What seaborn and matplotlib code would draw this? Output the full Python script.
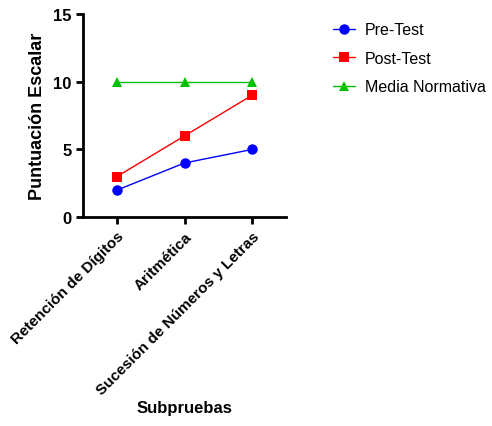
import pandas as pd
import seaborn as sns
import matplotlib.pyplot as plt

subpruebas = ['Retención de Dígitos', 'Aritmética', 'Sucesión de Números y Letras']
pre_test = [2, 4, 5]
post_test = [3, 6, 9]
media_normativa = [10, 10, 10]
series_names = ['Pre-Test', 'Post-Test', 'Media Normativa']

df = pd.DataFrame({
    'Subprueba': subpruebas * 3,
    'Puntuacion': pre_test + post_test + media_normativa,
    'Serie': [s for s in series_names for _ in subpruebas],
})

sns.set_style('ticks')
plt.rcParams['font.family'] = ['Liberation Sans', 'DejaVu Sans']
plt.rcParams['text.color'] = 'black'
plt.rcParams['axes.labelcolor'] = 'black'
plt.rcParams['xtick.color'] = 'black'
plt.rcParams['ytick.color'] = 'black'

fig = plt.figure(figsize=(4.92, 4.27), dpi=100)
ax = fig.add_axes([0.169, 0.489, 0.412, 0.476])

palette = {'Pre-Test': '#0000ff', 'Post-Test': '#ff0000', 'Media Normativa': '#00c000'}
markers = {'Pre-Test': 'o', 'Post-Test': 's', 'Media Normativa': '^'}
sns.lineplot(data=df, x='Subprueba', y='Puntuacion', hue='Serie', style='Serie',
             palette=palette, markers=markers, dashes=False, markersize=7.5,
             markeredgewidth=0, linewidth=1, sort=False, ax=ax)

ax.set_xlim(-0.5, 2.5)
ax.set_ylim(0, 15)
ax.set_yticks([0, 5, 10, 15])
sns.despine(ax=ax)
for sp in ['left', 'bottom']:
    ax.spines[sp].set_linewidth(2)
    ax.spines[sp].set_color('black')
ax.tick_params(width=2, length=5, color='black', labelsize=11)
ax.tick_params(axis='y', labelsize=12)
for lbl in ax.get_xticklabels() + ax.get_yticklabels():
    lbl.set_fontweight('bold')
plt.setp(ax.get_xticklabels(), rotation=45, ha='right', rotation_mode='anchor')

ax.set_xlabel('Subpruebas', fontsize=12, fontweight='bold', labelpad=2)
ax.set_ylabel('Puntuación Escalar', fontsize=13, fontweight='bold', labelpad=5)

leg = ax.legend(loc='upper left', bbox_to_anchor=(1.16, 1.03), frameon=False,
                fontsize=11.5, handlelength=1.4, handletextpad=0.6, labelspacing=0.85)

fig.savefig('out.png', dpi=100)
